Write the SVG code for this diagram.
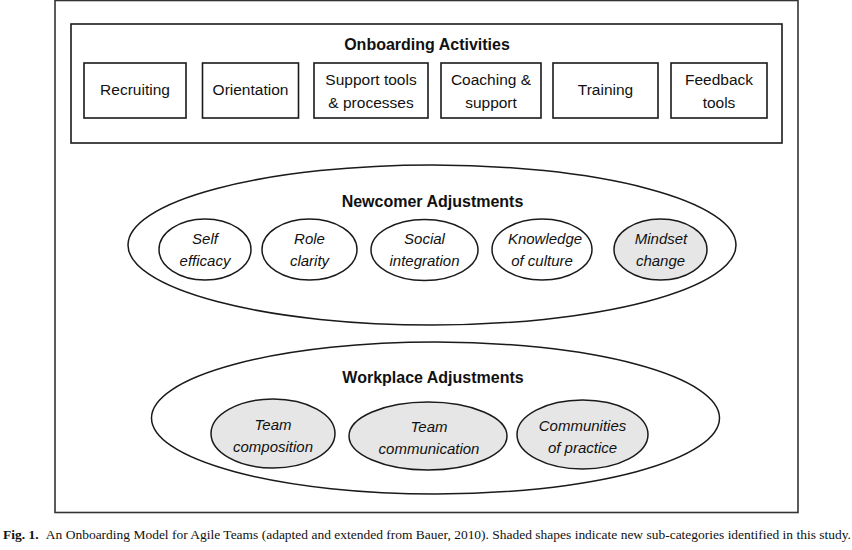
<svg xmlns="http://www.w3.org/2000/svg" width="852" height="550" viewBox="0 0 852 550">
<style>
  .frame { fill: none; stroke: #333; stroke-width: 1.6; }
  .box { fill: #fff; stroke: #1a1a1a; stroke-width: 1.6; }
  .ell { fill: #fff; stroke: #1a1a1a; stroke-width: 1.5; }
  .shaded { fill: #e6e6e6; }
  .title { font-family: "Liberation Sans", Arial, sans-serif; font-weight: bold; font-size: 16px; fill: #111; text-anchor: middle; }
  .lbl { font-family: "Liberation Sans", Arial, sans-serif; font-size: 15.5px; fill: #111; text-anchor: middle; }
  .it { font-family: "Liberation Sans", Arial, sans-serif; font-style: italic; font-size: 15px; fill: #111; text-anchor: middle; }
  .cap { font-family: "Liberation Serif", "Times New Roman", serif; font-size: 11.5px; fill: #111; }
</style>
<rect width="852" height="550" fill="#fff"/>
<rect class="frame" x="55" y="0.5" width="743" height="512"/>

<g id="onboarding">
  <rect class="box" x="71" y="24" width="711" height="119"/>
  <text class="title" x="427" y="50">Onboarding Activities</text>
  <g id="recruiting">
    <rect class="box" x="84" y="63" width="102" height="55"/>
    <text class="lbl" x="135" y="95">Recruiting</text>
  </g>
  <g id="orientation">
    <rect class="box" x="202.5" y="63" width="96" height="55"/>
    <text class="lbl" x="250.5" y="95">Orientation</text>
  </g>
  <g id="support-tools">
    <rect class="box" x="314" y="63" width="114" height="55"/>
    <text class="lbl" x="371" y="85">Support tools</text>
    <text class="lbl" x="371" y="108">&amp; processes</text>
  </g>
  <g id="coaching">
    <rect class="box" x="441" y="63" width="100" height="55"/>
    <text class="lbl" x="491" y="85">Coaching &amp;</text>
    <text class="lbl" x="491" y="108">support</text>
  </g>
  <g id="training">
    <rect class="box" x="553" y="63" width="105" height="55"/>
    <text class="lbl" x="605.5" y="95">Training</text>
  </g>
  <g id="feedback">
    <rect class="box" x="671" y="63" width="96" height="55"/>
    <text class="lbl" x="719" y="85">Feedback</text>
    <text class="lbl" x="719" y="108">tools</text>
  </g>
</g>

<g id="newcomer">
  <ellipse class="ell" cx="432" cy="245" rx="304" ry="80"/>
  <text class="title" x="432.5" y="207">Newcomer Adjustments</text>
  <g id="self-efficacy">
    <ellipse class="ell" cx="205" cy="249.5" rx="46" ry="30.5"/>
    <text class="it" x="205" y="244">Self</text>
    <text class="it" x="205" y="266">efficacy</text>
  </g>
  <g id="role-clarity">
    <ellipse class="ell" cx="309.5" cy="249.5" rx="47.5" ry="30.5"/>
    <text class="it" x="309.5" y="244">Role</text>
    <text class="it" x="309.5" y="266">clarity</text>
  </g>
  <g id="social-integration">
    <ellipse class="ell" cx="424.5" cy="250" rx="53.5" ry="30.5"/>
    <text class="it" x="424.5" y="244">Social</text>
    <text class="it" x="424.5" y="266">integration</text>
  </g>
  <g id="knowledge-culture">
    <ellipse class="ell" cx="542" cy="249.5" rx="50" ry="30.5"/>
    <text class="it" x="545" y="244">Knowledge</text>
    <text class="it" x="542" y="266">of culture</text>
  </g>
  <g id="mindset-change">
    <ellipse class="ell shaded" cx="660.5" cy="249.5" rx="46.5" ry="30.5"/>
    <text class="it" x="661" y="244">Mindset</text>
    <text class="it" x="660.5" y="266">change</text>
  </g>
</g>

<g id="workplace">
  <ellipse class="ell" cx="435.5" cy="418" rx="284" ry="76"/>
  <text class="title" x="433" y="383">Workplace Adjustments</text>
  <g id="team-composition">
    <ellipse class="ell shaded" cx="273" cy="433.5" rx="62" ry="34.5"/>
    <text class="it" x="273" y="430">Team</text>
    <text class="it" x="273" y="452">composition</text>
  </g>
  <g id="team-communication">
    <ellipse class="ell shaded" cx="428" cy="436" rx="79" ry="34"/>
    <text class="it" x="429" y="432">Team</text>
    <text class="it" x="429" y="454">communication</text>
  </g>
  <g id="communities">
    <ellipse class="ell shaded" cx="582.5" cy="434.5" rx="65.5" ry="34.5"/>
    <text class="it" x="582.5" y="431">Communities</text>
    <text class="it" x="582.5" y="453">of practice</text>
  </g>
</g>

<g id="connectors"></g>

<text class="cap" x="3" y="539" textLength="848" lengthAdjust="spacingAndGlyphs"><tspan font-weight="bold">Fig. 1.</tspan><tspan dx="4"> An Onboarding Model for Agile Teams (adapted and extended from Bauer, 2010). Shaded shapes indicate new sub-categories identified in this study.</tspan></text>
</svg>
